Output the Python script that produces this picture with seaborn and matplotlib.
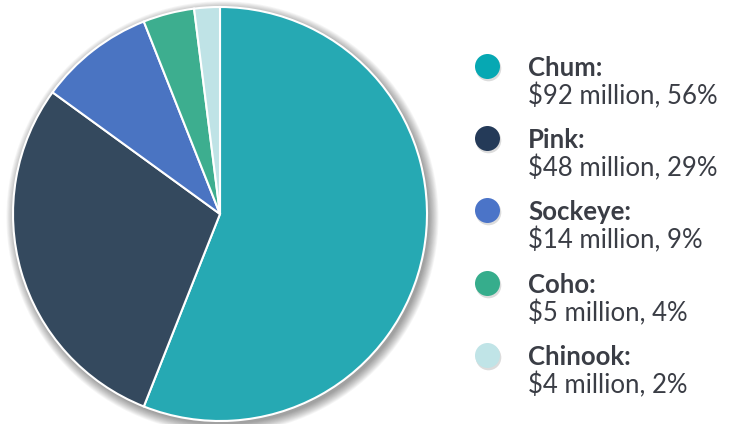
import matplotlib
matplotlib.use("Agg")
import matplotlib.pyplot as plt
from matplotlib.patches import Circle
import seaborn as sns

# data
species = ["Chum", "Pink", "Sockeye", "Coho", "Chinook"]
value_millions = [92, 48, 14, 5, 4]
share_pct = [56, 29, 9, 4, 2]

slice_colors = ["#26a9b3", "#34495e", "#4a74c2", "#3dae8f", "#bfe3e6"]
marker_colors = ["#06a8b3", "#243a58", "#4b74c8", "#36ad8c", "#c0e4e7"]

sns.set_theme(style="white")
plt.rcParams["font.family"] = ["Lato", "DejaVu Sans"]

W, H = 735, 424
fig = plt.figure(figsize=(W / 100, H / 100), dpi=100)

# pie axes: centre (220, 214) px, radius 207 px, limits +-1.1
cx, cy, r = 220, 214, 207
half = r * 1.1
ax = fig.add_axes([(cx - half) / W, (H - cy - half) / H, 2 * half / W, 2 * half / H])
ax.axis("off")

# soft drop shadow, offset down-right
for i in range(12):
    ax.add_patch(Circle((0.012, -0.016), 1.0 + 0.004 * i, color="black",
                        alpha=0.035, lw=0, zorder=0))

# slices follow the rounded shares shown in the legend
ax.pie(share_pct, colors=slice_colors, startangle=90, counterclock=False,
       radius=1.0, wedgeprops=dict(edgecolor="white", linewidth=1.5),
       frame=False)
ax.set_xlim(-1.1, 1.1)
ax.set_ylim(-1.1, 1.1)

# legend on an overlay in pixel coords
lax = fig.add_axes([0, 0, 1, 1])
lax.set_xlim(0, W)
lax.set_ylim(H, 0)
lax.axis("off")

row_y = [66, 138, 210, 283, 355]
text_color = "#3a3d45"
for name, val, pct, col, y in zip(species, value_millions, share_pct, marker_colors, row_y):
    lax.scatter([488], [y + 1.5], s=340, color="#bbbbbb", alpha=0.5, lw=0)
    lax.scatter([487], [y], s=324, color=col, lw=0)
    lax.text(528, y + 2, f"{name}:", fontsize=18.5, fontweight="bold",
             color=text_color, va="center", ha="left")
    lax.text(528, y + 30, f"${val} million, {pct}%", fontsize=18.5,
             color=text_color, va="center", ha="left")

fig.savefig("out.png", dpi=100)
